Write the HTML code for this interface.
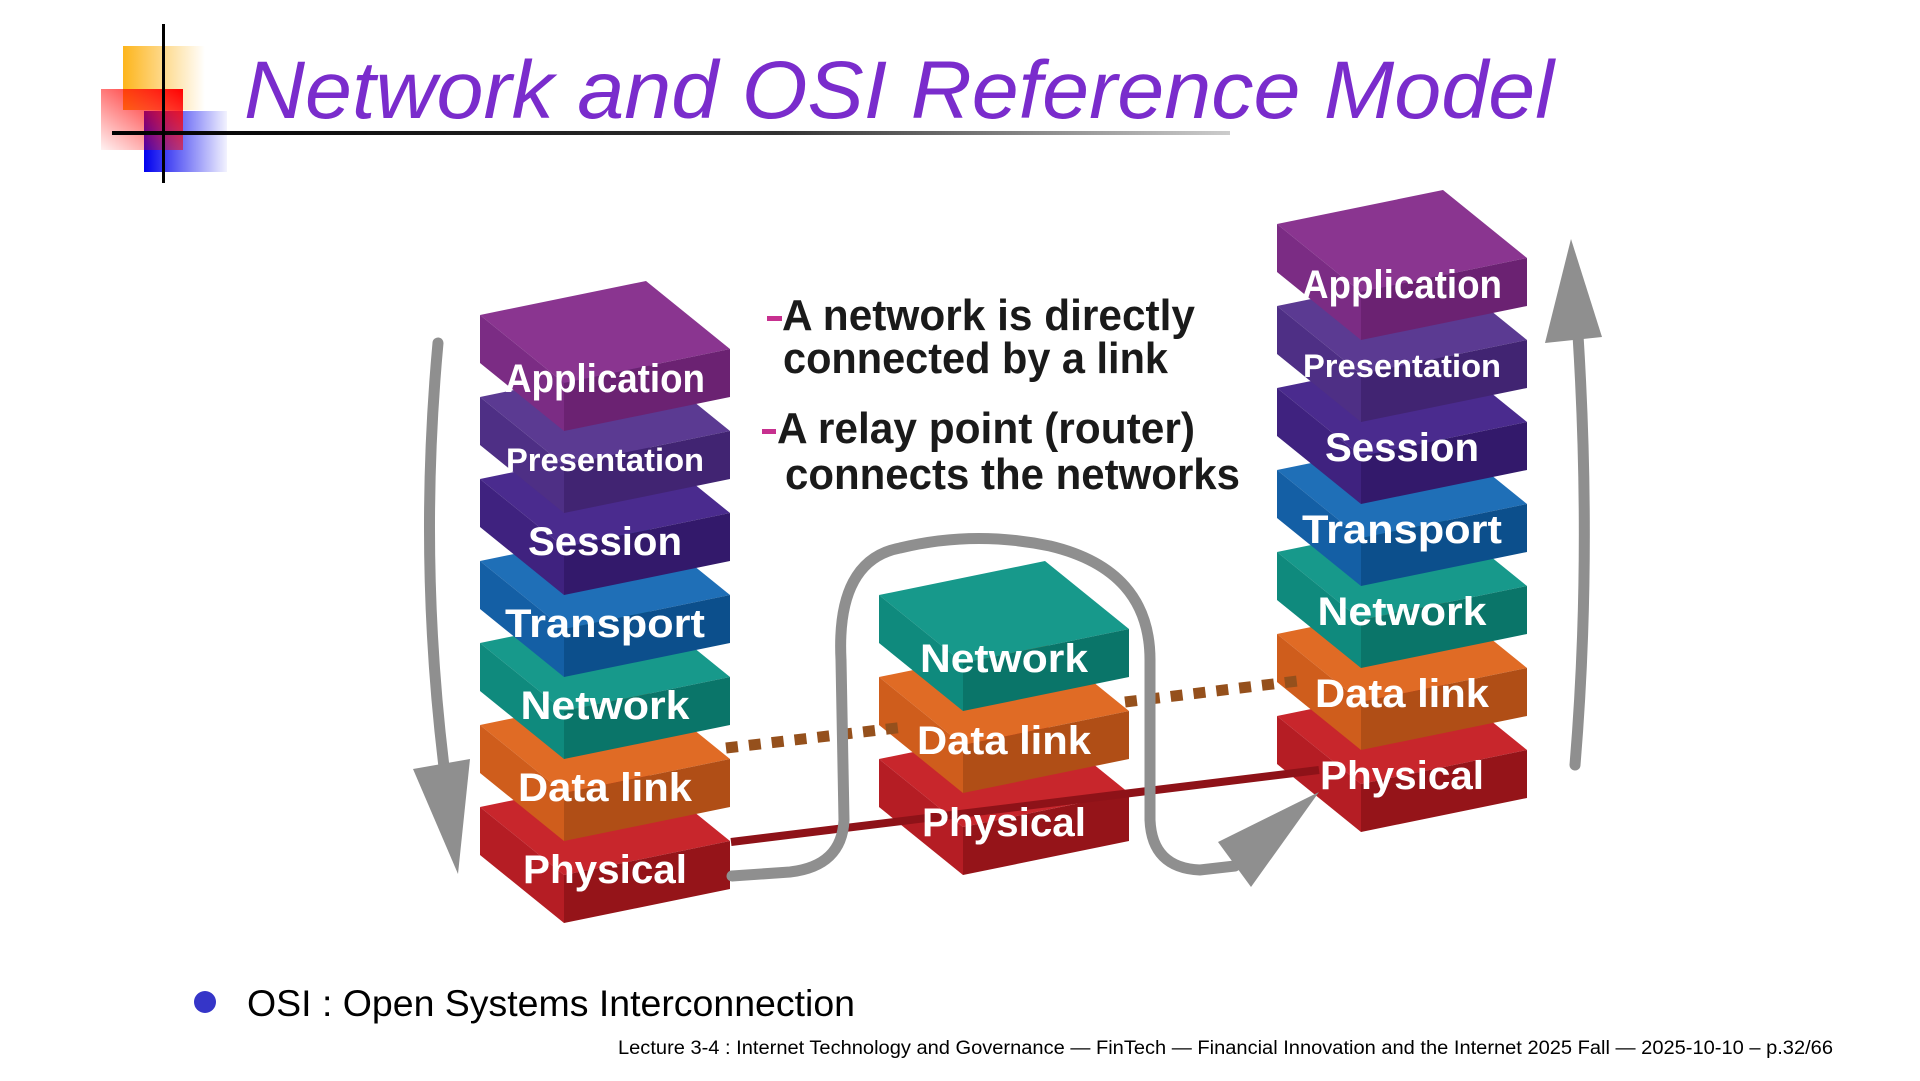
<!DOCTYPE html>
<html><head><meta charset="utf-8"><style>
html,body{margin:0;padding:0;background:#fff;}
svg{display:block;}
.lb{font-family:"Liberation Sans",sans-serif;font-weight:bold;fill:#fff;text-anchor:middle;}
.bt{font-family:"Liberation Sans",sans-serif;font-weight:bold;fill:#1a1a1a;font-size:44px;}
</style></head><body>
<svg width="1920" height="1081" viewBox="0 0 1920 1081" xmlns="http://www.w3.org/2000/svg">
<defs>
<linearGradient id="gy" x1="0" x2="1"><stop offset="0" stop-color="#fdb51c"/><stop offset="1" stop-color="#fdb51c" stop-opacity="0"/></linearGradient>
<linearGradient id="gr" x1="1" y1="0" x2="0" y2="1"><stop offset="0" stop-color="#ff0000"/><stop offset="1" stop-color="#ff0000" stop-opacity="0.05"/></linearGradient>
<linearGradient id="gb" x1="0" x2="1"><stop offset="0" stop-color="#0000ee"/><stop offset="1" stop-color="#0000ee" stop-opacity="0.05"/></linearGradient>
<linearGradient id="gl" x1="0" x2="1"><stop offset="0" stop-color="#000"/><stop offset="0.6" stop-color="#333"/><stop offset="1" stop-color="#ccc"/></linearGradient>
</defs>

<rect x="123" y="46" width="82" height="64" fill="url(#gy)"/>
<rect x="144" y="111" width="83" height="61" fill="url(#gb)"/>
<rect x="101" y="89" width="82" height="61" fill="url(#gr)"/>
<rect x="112" y="131" width="1118" height="4" fill="url(#gl)"/>
<rect x="162" y="24" width="3" height="159" fill="#000"/>

<text x="244" y="118" font-family="Liberation Sans, sans-serif" font-style="italic" font-size="82" fill="#7a2ccc" textLength="1310" lengthAdjust="spacingAndGlyphs">Network and OSI Reference Model</text>

<rect x="767" y="316" width="15" height="5" fill="#c7308f"/>
<text class="bt" x="782" y="330" textLength="413" lengthAdjust="spacingAndGlyphs">A network is directly</text>
<text class="bt" x="783" y="373" textLength="385" lengthAdjust="spacingAndGlyphs">connected by a link</text>
<rect x="762" y="429" width="14" height="5" fill="#c7308f"/>
<text class="bt" x="777" y="443" textLength="418" lengthAdjust="spacingAndGlyphs">A relay point (router)</text>
<text class="bt" x="785" y="489" textLength="455" lengthAdjust="spacingAndGlyphs">connects the networks</text>

<g id="stacks">
<g transform="translate(480,807)"><polygon points="0,0 166,-34 250,34 84,68" fill="#c8262c"/><polygon points="0,0 84,68 84,116 0,48" fill="#b51d24"/><polygon points="84,68 250,34 250,82 84,116" fill="#951419"/></g>
<g transform="translate(480,725)"><polygon points="0,0 166,-34 250,34 84,68" fill="#e06b25"/><polygon points="0,0 84,68 84,116 0,48" fill="#cf5d1c"/><polygon points="84,68 250,34 250,82 84,116" fill="#b04e16"/></g>
<g transform="translate(480,643)"><polygon points="0,0 166,-34 250,34 84,68" fill="#17998b"/><polygon points="0,0 84,68 84,116 0,48" fill="#0f8a7d"/><polygon points="84,68 250,34 250,82 84,116" fill="#0a7569"/></g>
<g transform="translate(480,561)"><polygon points="0,0 166,-34 250,34 84,68" fill="#1f6fb7"/><polygon points="0,0 84,68 84,116 0,48" fill="#145fa5"/><polygon points="84,68 250,34 250,82 84,116" fill="#0c4f8c"/></g>
<g transform="translate(480,479)"><polygon points="0,0 166,-34 250,34 84,68" fill="#4a2b8e"/><polygon points="0,0 84,68 84,116 0,48" fill="#3f227f"/><polygon points="84,68 250,34 250,82 84,116" fill="#33196b"/></g>
<g transform="translate(480,397)"><polygon points="0,0 166,-34 250,34 84,68" fill="#5b3a92"/><polygon points="0,0 84,68 84,116 0,48" fill="#4e2f85"/><polygon points="84,68 250,34 250,82 84,116" fill="#412472"/></g>
<g transform="translate(480,315)"><polygon points="0,0 166,-34 250,34 84,68" fill="#8a3590"/><polygon points="0,0 84,68 84,116 0,48" fill="#7b2c84"/><polygon points="84,68 250,34 250,82 84,116" fill="#6b2272"/></g>
<g transform="translate(879,759)"><polygon points="0,0 166,-34 250,34 84,68" fill="#c8262c"/><polygon points="0,0 84,68 84,116 0,48" fill="#b51d24"/><polygon points="84,68 250,34 250,82 84,116" fill="#951419"/></g>
<g transform="translate(879,677)"><polygon points="0,0 166,-34 250,34 84,68" fill="#e06b25"/><polygon points="0,0 84,68 84,116 0,48" fill="#cf5d1c"/><polygon points="84,68 250,34 250,82 84,116" fill="#b04e16"/></g>
<g transform="translate(879,595)"><polygon points="0,0 166,-34 250,34 84,68" fill="#17998b"/><polygon points="0,0 84,68 84,116 0,48" fill="#0f8a7d"/><polygon points="84,68 250,34 250,82 84,116" fill="#0a7569"/></g>
<g transform="translate(1277,716)"><polygon points="0,0 166,-34 250,34 84,68" fill="#c8262c"/><polygon points="0,0 84,68 84,116 0,48" fill="#b51d24"/><polygon points="84,68 250,34 250,82 84,116" fill="#951419"/></g>
<g transform="translate(1277,634)"><polygon points="0,0 166,-34 250,34 84,68" fill="#e06b25"/><polygon points="0,0 84,68 84,116 0,48" fill="#cf5d1c"/><polygon points="84,68 250,34 250,82 84,116" fill="#b04e16"/></g>
<g transform="translate(1277,552)"><polygon points="0,0 166,-34 250,34 84,68" fill="#17998b"/><polygon points="0,0 84,68 84,116 0,48" fill="#0f8a7d"/><polygon points="84,68 250,34 250,82 84,116" fill="#0a7569"/></g>
<g transform="translate(1277,470)"><polygon points="0,0 166,-34 250,34 84,68" fill="#1f6fb7"/><polygon points="0,0 84,68 84,116 0,48" fill="#145fa5"/><polygon points="84,68 250,34 250,82 84,116" fill="#0c4f8c"/></g>
<g transform="translate(1277,388)"><polygon points="0,0 166,-34 250,34 84,68" fill="#4a2b8e"/><polygon points="0,0 84,68 84,116 0,48" fill="#3f227f"/><polygon points="84,68 250,34 250,82 84,116" fill="#33196b"/></g>
<g transform="translate(1277,306)"><polygon points="0,0 166,-34 250,34 84,68" fill="#5b3a92"/><polygon points="0,0 84,68 84,116 0,48" fill="#4e2f85"/><polygon points="84,68 250,34 250,82 84,116" fill="#412472"/></g>
<g transform="translate(1277,224)"><polygon points="0,0 166,-34 250,34 84,68" fill="#8a3590"/><polygon points="0,0 84,68 84,116 0,48" fill="#7b2c84"/><polygon points="84,68 250,34 250,82 84,116" fill="#6b2272"/></g>
</g>

<line x1="731" y1="842" x2="1319" y2="770" stroke="#8e1218" stroke-width="8"/>
<line x1="726" y1="748" x2="905" y2="727" stroke="#95501c" stroke-width="11" stroke-dasharray="12,11"/>
<line x1="1125" y1="702" x2="1306" y2="680" stroke="#95501c" stroke-width="11" stroke-dasharray="12,11"/>

<path d="M732,876 L790,872 Q842,866 844,820 L841,660 Q836,560 900,548 Q974,530 1050,546 Q1150,570 1150,660 L1150,820 Q1152,868 1200,870 L1235,866" fill="none" stroke="#8f8f8f" stroke-width="11" stroke-linecap="round"/>
<polygon points="1218,842 1251,887 1319,792" fill="#8f8f8f"/>

<path d="M438,343 Q418,560 445,775" fill="none" stroke="#8f8f8f" stroke-width="11" stroke-linecap="round"/>
<polygon points="413,769 470,759 458,874" fill="#8f8f8f"/>
<path d="M1575,765 Q1592,560 1578,335" fill="none" stroke="#8f8f8f" stroke-width="11" stroke-linecap="round"/>
<polygon points="1545,343 1602,337 1571,239" fill="#8f8f8f"/>

<g class="lb">
<text x="605" y="392" font-size="40" textLength="200" lengthAdjust="spacingAndGlyphs">Application</text>
<text x="605" y="471" font-size="32" textLength="198" lengthAdjust="spacingAndGlyphs">Presentation</text>
<text x="605" y="555" font-size="40" textLength="154" lengthAdjust="spacingAndGlyphs">Session</text>
<text x="605" y="637" font-size="40" textLength="200" lengthAdjust="spacingAndGlyphs">Transport</text>
<text x="605" y="719" font-size="40" textLength="169" lengthAdjust="spacingAndGlyphs">Network</text>
<text x="605" y="801" font-size="40" textLength="174" lengthAdjust="spacingAndGlyphs">Data link</text>
<text x="605" y="883" font-size="40" textLength="164" lengthAdjust="spacingAndGlyphs">Physical</text>
<text x="1004" y="672" font-size="40" textLength="168" lengthAdjust="spacingAndGlyphs">Network</text>
<text x="1004" y="754" font-size="40" textLength="174" lengthAdjust="spacingAndGlyphs">Data link</text>
<text x="1004" y="836" font-size="40" textLength="164" lengthAdjust="spacingAndGlyphs">Physical</text>
<text x="1402" y="298" font-size="40" textLength="200" lengthAdjust="spacingAndGlyphs">Application</text>
<text x="1402" y="377" font-size="32" textLength="198" lengthAdjust="spacingAndGlyphs">Presentation</text>
<text x="1402" y="461" font-size="40" textLength="154" lengthAdjust="spacingAndGlyphs">Session</text>
<text x="1402" y="543" font-size="40" textLength="200" lengthAdjust="spacingAndGlyphs">Transport</text>
<text x="1402" y="625" font-size="40" textLength="169" lengthAdjust="spacingAndGlyphs">Network</text>
<text x="1402" y="707" font-size="40" textLength="174" lengthAdjust="spacingAndGlyphs">Data link</text>
<text x="1402" y="789" font-size="40" textLength="164" lengthAdjust="spacingAndGlyphs">Physical</text>
</g>

<circle cx="205" cy="1002" r="11" fill="#3535c8"/>
<text x="247" y="1016" font-family="Liberation Sans, sans-serif" font-size="37" fill="#000" textLength="608" lengthAdjust="spacingAndGlyphs">OSI : Open Systems Interconnection</text>
<text x="618" y="1054" font-family="Liberation Sans, sans-serif" font-size="19" fill="#000" textLength="1215" lengthAdjust="spacingAndGlyphs">Lecture 3-4 : Internet Technology and Governance — FinTech — Financial Innovation and the Internet 2025 Fall — 2025-10-10 – p.32/66</text>
</svg>
</body></html>
